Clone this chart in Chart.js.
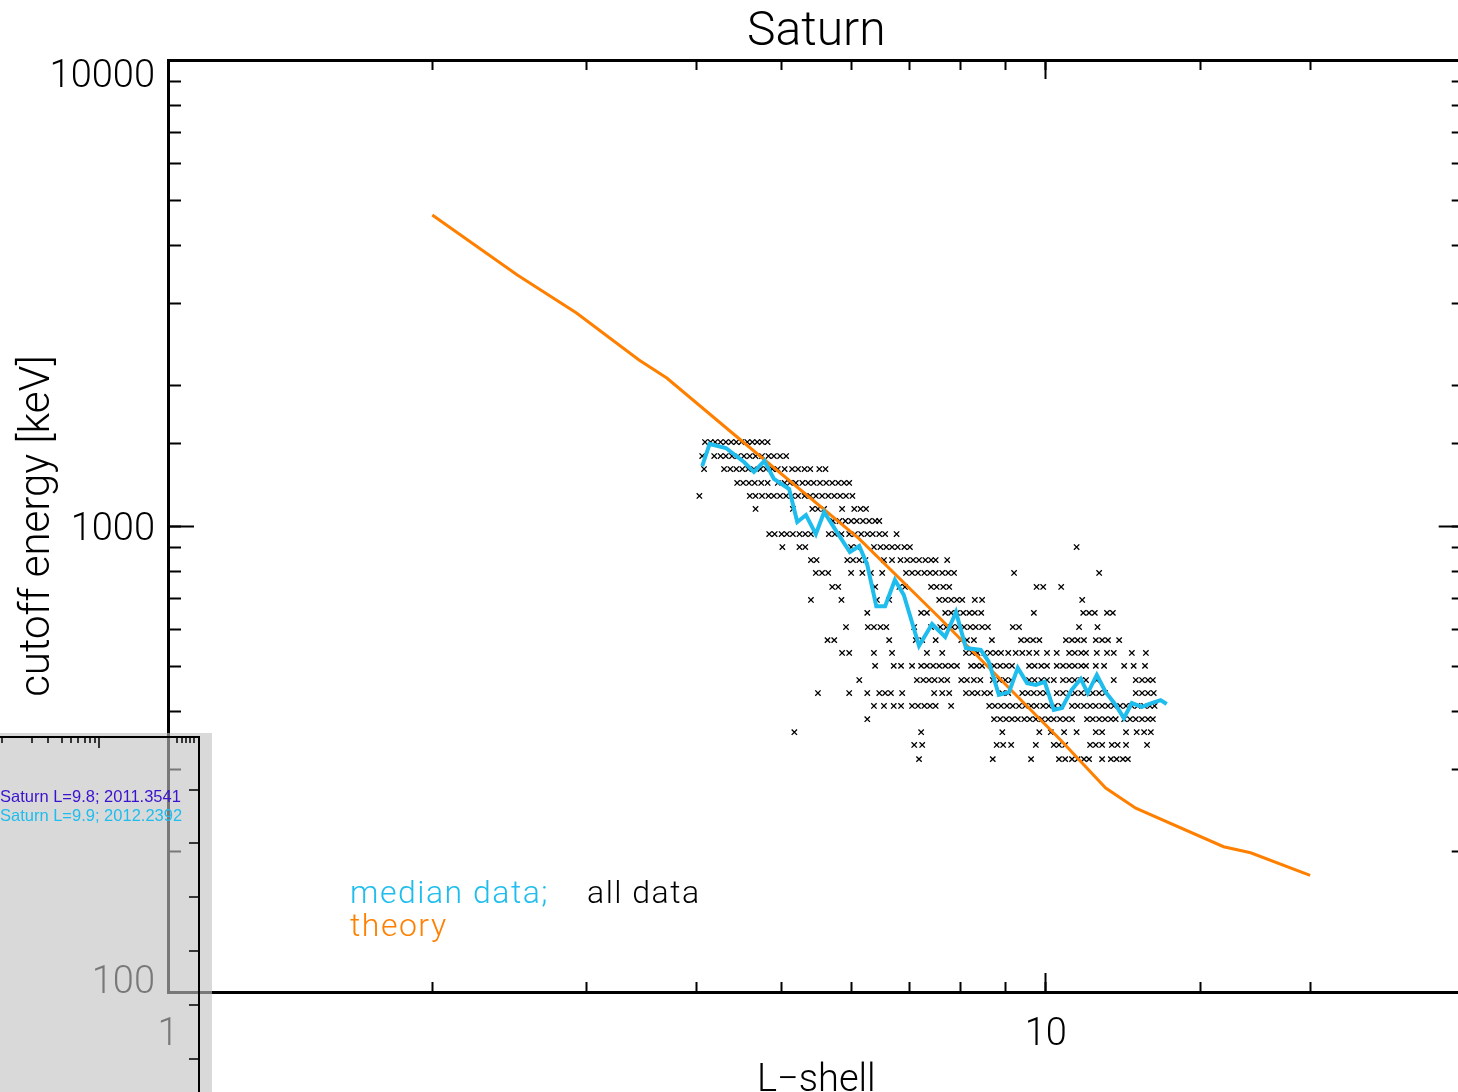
<!DOCTYPE html>
<html>
<head>
<meta charset="utf-8">
<script src="https://cdn.jsdelivr.net/npm/chart.js@4.4.1/dist/chart.umd.min.js"></script>
<style>
html,body{margin:0;padding:0;background:#fff;overflow:hidden;width:1458px;height:1092px}
canvas{position:absolute;left:0;top:0}
</style>
</head>
<body>
<canvas id="c" width="1470" height="1092" style="width:1470px;height:1092px"></canvas>
<script>
// ---------- data ----------
const chartTitle = 'Saturn';
const xAxisTitle = 'L\u2212shell';
const yAxisTitle = 'cutoff energy [keV]';
const xTickLabels = ['1', '10'];
const yTickLabels = ['100', '1000', '10000'];

// theory curve
const theoryL = [2.00, 2.50, 2.92, 3.44, 3.70, 4.38, 6.13, 7.55, 10.40, 11.70, 12.66, 15.94, 17.11, 20.0];
const theoryE = [4650, 3456, 2865, 2271, 2078, 1591, 938, 638, 347, 274, 248, 205, 199, 178];

// median data
const medianL = [4.06,4.14,4.32,4.53,4.65,4.78,4.90,5.10,5.21,5.33,5.47,5.59,5.81,5.98,6.13,6.26,6.41,6.56,6.73,6.89,7.17,7.42,7.68,7.90,8.11,8.43,8.61,8.84,9.08,9.29,9.52,9.74,9.97,10.21,10.43,10.70,10.96,11.16,11.43,11.70,12.01,12.27,12.53,12.86,13.20,13.51,13.73];
const medianE = [1345,1500,1470,1372,1306,1379,1262,1200,1020,1056,961,1072,956,879,906,825,673,673,766,711,553,616,578,654,547,542,511,434,440,496,460,456,463,403,407,445,470,438,479,440,413,387,417,409,417,423,415];

// all data: energy channels and the L values observed in each channel
const allDataE = [1514,1413,1325,1237,1160,1088,1025,961,901,845,793,740,694,651,607,569,534,501,467,438,411,385,361,339,316];
const allDataL = [
  [4.09,4.15,4.20,4.26,4.32,4.38,4.44,4.50,4.57,4.63,4.69,4.75,4.82],
  [4.06,4.19,4.26,4.32,4.39,4.46,4.53,4.60,4.67,4.75,4.83,4.90,4.98,5.06],
  [4.08,4.30,4.37,4.44,4.51,4.58,4.65,4.73,4.80,4.88,4.95,5.04,5.14,5.22,5.31,5.39,5.52,5.61],
  [4.45,4.52,4.59,4.66,4.74,4.82,4.95,5.04,5.11,5.19,5.28,5.36,5.44,5.53,5.62,5.71,5.80,5.89,5.97],
  [4.03,4.60,4.67,4.75,4.83,4.90,4.98,5.06,5.14,5.22,5.31,5.39,5.47,5.56,5.65,5.74,5.83,5.92,6.02],
  [4.67,5.15,5.42,5.50,5.59,5.86,6.05,6.15,6.24],
  [5.72,5.82,5.91,6.00,6.09,6.19,6.29,6.39,6.46],
  [4.84,4.91,5.00,5.07,5.15,5.24,5.32,5.40,5.66,5.75,5.85,5.97,6.06,6.16,6.26,6.35,6.46,6.56,6.76],
  [5.01,5.24,5.32,6.00,6.09,6.37,6.48,6.58,6.68,6.78,6.90,7.00,10.84],
  [5.40,5.48,5.94,6.03,6.13,6.23,6.54,6.68,6.83,6.95,7.06,7.17,7.29,7.40,7.49,7.72],
  [5.47,5.56,5.65,6.00,6.18,6.32,6.51,6.93,7.04,7.15,7.27,7.38,7.49,7.62,7.74,7.86,9.20,11.50],
  [5.71,5.80,6.39,6.81,6.91,7.40,7.51,7.64,7.76,9.76,9.93,10.41],
  [5.40,5.85,6.42,6.63,7.56,7.68,7.80,7.92,8.03,8.30,8.46,11.00],
  [6.26,7.21,7.32,7.68,7.80,7.92,8.05,8.18,8.30,8.44,9.69,11.03,11.20,11.37,11.74,11.92],
  [5.92,6.27,6.37,6.48,6.58,7.08,7.40,7.58,7.70,7.82,7.94,8.07,8.20,8.32,8.46,8.59,9.17,9.32,10.91,11.45],
  [5.64,5.74,6.63,7.11,7.23,7.49,8.01,8.13,8.28,8.68,9.37,9.52,9.67,9.83,10.54,10.71,10.87,11.05,11.40,11.59,11.77,12.12],
  [5.86,5.97,6.37,6.68,7.32,7.62,8.11,8.24,8.36,8.51,8.64,8.77,8.89,9.06,9.24,9.40,9.57,9.76,10.03,10.29,10.63,10.79,10.97,11.11,11.43,11.74,11.95,12.53,13.00],
  [6.39,6.71,6.84,7.04,7.21,7.32,7.44,7.56,7.68,7.80,7.92,8.22,8.34,8.46,8.73,8.87,9.01,9.15,9.57,9.71,9.88,10.03,10.29,10.46,10.63,10.79,10.97,11.11,11.40,11.65,12.28,12.59,12.97],
  [6.13,7.13,7.25,7.36,7.47,7.60,7.72,8.01,8.13,8.28,8.42,8.70,8.85,8.99,9.13,9.57,9.71,9.88,10.03,10.21,10.46,10.63,10.79,10.97,11.11,11.43,11.95,12.66,12.87,13.07,13.24],
  [5.50,5.97,6.26,6.46,6.56,6.66,6.86,7.46,7.62,7.76,8.11,8.24,8.36,8.51,8.64,8.92,9.06,9.40,9.54,9.69,9.85,10.00,10.29,10.46,10.63,10.79,10.97,11.14,11.31,11.50,11.68,12.66,12.87,13.07,13.27],
  [6.37,6.54,6.71,6.84,7.04,7.15,7.27,7.38,7.49,7.80,8.62,8.75,8.89,9.03,9.17,9.32,9.47,9.62,9.76,9.93,10.08,10.24,10.41,10.71,10.87,11.05,11.23,11.40,11.59,11.77,11.95,12.15,12.34,12.53,12.72,12.94,13.14,13.30],
  [6.26,8.73,8.87,9.01,9.15,9.29,9.45,9.59,9.74,9.90,10.06,10.21,10.38,10.54,10.71,11.14,11.31,11.50,11.68,11.86,12.01,12.28,12.47,12.66,12.87,13.07,13.24],
  [5.17,7.21,8.92,9.83,10.13,10.49,10.84,11.40,11.59,12.34,12.69,12.94,13.17],
  [7.08,7.23,8.79,8.94,9.13,9.74,10.21,10.35,10.52,11.23,11.40,11.59,11.89,12.07,12.34,13.04],
  [7.17,8.70,9.62,10.35,10.52,10.71,10.87,11.05,11.20,11.59,11.86,12.04,12.24,12.40]
];

// legend / overlay texts
const legendMedian = 'median data;';
const legendAll = 'all data';
const legendTheory = 'theory';
const insetLine1 = 'Saturn L=9.8; 2011.3541';
const insetLine2 = 'Saturn L=9.9; 2012.2392';

// ---------- styling ----------
const FONT = "Roboto, 'Liberation Sans', sans-serif";
const ORANGE = '#ff8000';
const CYAN = '#1ebdee';
const X_MIN = 1, X_MAX = 30, Y_MIN = 100, Y_MAX = 10000;

const toPts = (xs, ys) => xs.map((x, i) => ({x: x, y: ys[i]}));
const scatterPts = allDataE.flatMap((e, i) => allDataL[i].map(l => ({x: l, y: e})));

const isLabel = (v, labels) => labels.some(l => Math.abs(v - Number(l)) < 1e-6 * Number(l));
const majorFilter = labels => s => { s.ticks = s.ticks.filter(t => isLabel(t.value, labels)); };

function xLabel(v) {
  for (const l of xTickLabels) if (Math.abs(v - Number(l)) < 1e-6) return l;
  return '';
}
function yLabel(v) {
  const n = yTickLabels.length;
  for (let i = 0; i < n; i++) {
    const l = yTickLabels[i];
    if (Math.abs(v - Number(l)) < 1e-6 * Number(l)) {
      if (i === n - 1) return ['', l];
      if (i === 0) return [l, ''];
      return l;
    }
  }
  return '';
}

const gridMinor = (len) => ({drawOnChartArea: false, drawTicks: true, tickLength: len, tickWidth: 2, tickColor: '#000'});
const noLabels = {autoSkip: false, maxRotation: 0, callback: () => ''};

const decorPlugin = {
  id: 'decor',
  afterDraw(chart) {
    const ctx = chart.ctx;
    const a = chart.chartArea;
    ctx.save();
    // in-plot legend text
    ctx.font = '300 32px ' + FONT;
    ctx.textBaseline = 'alphabetic';
    ctx.textAlign = 'left';
    ctx.letterSpacing = '1.5px';
    ctx.fillStyle = CYAN;
    ctx.fillText(legendMedian, a.left + 182, a.top + 843);
    ctx.fillStyle = '#000';
    ctx.fillText(legendAll, a.left + 419, a.top + 843);
    ctx.fillStyle = ORANGE;
    ctx.fillText(legendTheory, a.left + 182, a.top + 876);
    ctx.letterSpacing = '0px';

    // grey inset panel overlapping the lower left corner
    ctx.fillStyle = 'rgba(193,193,193,0.62)';
    ctx.fillRect(0, 733, 212, 359);
    ctx.strokeStyle = '#000';
    ctx.lineWidth = 2;
    const seg = (x1, y1, x2, y2) => { ctx.beginPath(); ctx.moveTo(x1, y1); ctx.lineTo(x2, y2); ctx.stroke(); };
    seg(199, 736, 199, 1092);
    seg(0, 737, 200, 737);
    ctx.lineWidth = 1.5;
    [2, 32, 48, 62, 71, 78, 85, 90, 95, 177, 182, 186, 190, 194].forEach(x => seg(x, 737, x, 743));
    seg(99, 737, 99, 748);
    [790, 843, 897, 951, 1005, 1059].forEach(y => seg(189, y, 199, y));
    ctx.font = "16.5px 'Liberation Sans', Arial, sans-serif";
    ctx.fillStyle = '#3a12cf';
    ctx.fillText(insetLine1, 0, 802);
    ctx.fillStyle = CYAN;
    ctx.fillText(insetLine2, 0, 821);
    ctx.restore();
  }
};

new Chart(document.getElementById('c'), {
  data: {
    datasets: [
      {type: 'line', label: 'median data', data: toPts(medianL, medianE), borderColor: CYAN, borderWidth: 4,
       pointRadius: 0, tension: 0, fill: false, order: 1, borderJoinStyle: 'miter'},
      {type: 'line', label: 'theory', data: toPts(theoryL, theoryE), borderColor: ORANGE, borderWidth: 3,
       pointRadius: 0, tension: 0, fill: false, order: 2},
      {type: 'scatter', label: 'all data', data: scatterPts, pointStyle: 'crossRot', pointRadius: 3.8,
       borderColor: '#000', backgroundColor: '#000', pointBorderWidth: 1.3, borderWidth: 1.3, order: 3}
    ]
  },
  options: {
    responsive: false,
    devicePixelRatio: 1,
    animation: false,
    events: [],
    layout: {padding: 0},
    plugins: {
      legend: {display: false},
      tooltip: {enabled: false},
      title: {display: true, text: chartTitle, color: '#000', fullSize: false,
              font: {family: FONT, size: 48, weight: '300', lineHeight: 1}, padding: {top: 9, bottom: 0}}
    },
    scales: {
      x: {type: 'logarithmic', position: 'bottom', min: X_MIN, max: X_MAX, weight: 1,
          afterFit(s) { s.height = 100; s.paddingLeft = 0; s.paddingRight = 0; },
          border: {display: true, color: '#000', width: 3},
          grid: gridMinor(-10),
          ticks: {autoSkip: false, maxRotation: 0, minRotation: 0, padding: 31, color: '#000',
                  font: {family: FONT, size: 38, weight: '300', lineHeight: 1.2}, callback: xLabel},
          title: {display: true, text: xAxisTitle, color: '#000', padding: 0,
                  font: {family: FONT, size: 38, weight: '300', lineHeight: '22px'}}},
      xMaj: {type: 'logarithmic', position: 'bottom', min: X_MIN, max: X_MAX, weight: 0,
          afterFit(s) { s.height = 0; s.paddingLeft = 0; s.paddingRight = 0; }, afterBuildTicks: majorFilter(xTickLabels),
          border: {display: false}, grid: gridMinor(-19), ticks: noLabels},
      x2: {type: 'logarithmic', position: 'top', min: X_MIN, max: X_MAX, weight: 1,
          afterFit(s) { s.height = 3; s.paddingLeft = 0; s.paddingRight = 0; },
          border: {display: true, color: '#000', width: 3},
          grid: gridMinor(-10), ticks: noLabels},
      x2Maj: {type: 'logarithmic', position: 'top', min: X_MIN, max: X_MAX, weight: 0,
          afterFit(s) { s.height = 0; s.paddingLeft = 0; s.paddingRight = 0; }, afterBuildTicks: majorFilter(xTickLabels),
          border: {display: false}, grid: gridMinor(-19), ticks: noLabels},
      y: {type: 'logarithmic', position: 'left', min: Y_MIN, max: Y_MAX, weight: 1,
          afterFit(s) { s.width = 168; },
          border: {display: true, color: '#000', width: 3},
          grid: gridMinor(-13),
          ticks: {autoSkip: false, padding: 26, color: '#000', labelOffset: 4,
                  font: {family: FONT, size: 38, weight: '300', lineHeight: '26px'}, callback: yLabel},
          title: {display: true, text: yAxisTitle, color: '#000', padding: {top: 17, bottom: 0},
                  font: {family: FONT, size: 42, weight: '300', lineHeight: 1}}},
      yMaj: {type: 'logarithmic', position: 'left', min: Y_MIN, max: Y_MAX, weight: 0,
          afterFit(s) { s.width = 0; }, afterBuildTicks: majorFilter(yTickLabels),
          border: {display: false}, grid: gridMinor(-26), ticks: noLabels},
      y2: {type: 'logarithmic', position: 'right', min: Y_MIN, max: Y_MAX, weight: 1,
          afterFit(s) { s.width = 4; },
          border: {display: true, color: '#000', width: 3},
          grid: gridMinor(-13), ticks: noLabels},
      y2Maj: {type: 'logarithmic', position: 'right', min: Y_MIN, max: Y_MAX, weight: 0,
          afterFit(s) { s.width = 0; }, afterBuildTicks: majorFilter(yTickLabels),
          border: {display: false}, grid: gridMinor(-26), ticks: noLabels}
    }
  },
  plugins: [decorPlugin]
});
</script>
</body>
</html>
